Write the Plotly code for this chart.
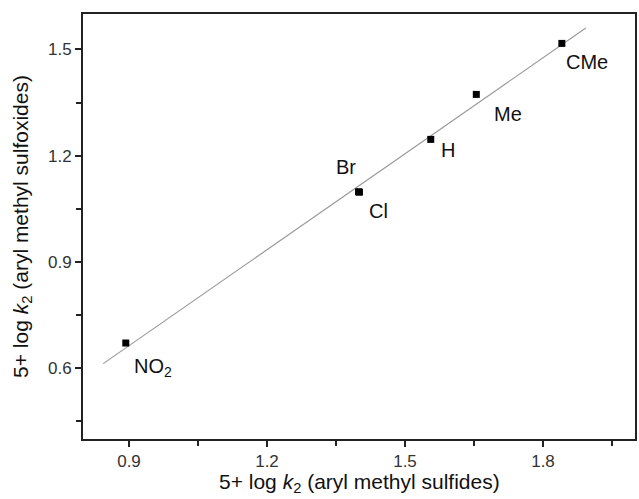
import numpy as np
import plotly.graph_objects as go

# Data
substituents = ["NO<sub>2</sub>", "Cl", "Br", "H", "Me", "CMe"]
log_k_sulfides = [0.893, 1.401, 1.399, 1.556, 1.655, 1.841]
log_k_sulfoxides = [0.671, 1.097, 1.098, 1.246, 1.373, 1.517]

x_ticks = [0.9, 1.2, 1.5, 1.8]
y_ticks = [0.6, 0.9, 1.2, 1.5]

x_title = "5+ log <i>k</i><sub>2</sub> (aryl methyl sulfides)"
y_title = "5+ log <i>k</i><sub>2</sub> (aryl methyl sulfoxides)"

# Linear fit
slope, intercept = np.polyfit(log_k_sulfides, log_k_sulfoxides, 1)
fit_x = np.array([0.844, 1.893])
fit_y = slope * fit_x + intercept

FONT = "Liberation Sans, Arial, sans-serif"

fig = go.Figure()
fig.add_trace(go.Scatter(x=fit_x, y=fit_y, mode="lines",
                         line=dict(color="#9a9a9a", width=1.2),
                         hoverinfo="skip", showlegend=False))
fig.add_trace(go.Scatter(x=log_k_sulfides, y=log_k_sulfoxides, mode="markers",
                         marker=dict(symbol="square", size=7, color="black"),
                         showlegend=False))

# label offsets (pixels) relative to each point
offsets = {
    "NO<sub>2</sub>": (27, -24),
    "Cl": (19, -19),
    "Br": (-13, 25),
    "H": (17, -11),
    "Me": (32, -20),
    "CMe": (25, -19),
}
for name, xv, yv in zip(substituents, log_k_sulfides, log_k_sulfoxides):
    dx, dy = offsets[name]
    fig.add_annotation(x=xv, y=yv, text=name, showarrow=False,
                       xshift=dx, yshift=dy,
                       font=dict(family=FONT, size=20, color="#111"))

# x-axis title as an annotation placed below the tick labels
fig.add_annotation(x=0.5, y=0, xref="paper", yref="paper", text=x_title,
                   showarrow=False, xanchor="center", yanchor="bottom",
                   yshift=-59, font=dict(family=FONT, size=21, color="#111"))

fig.update_xaxes(range=[0.8, 2.0], tickvals=x_ticks,
                 ticktext=[f"{v:.1f}" for v in x_ticks],
                 ticks="outside", ticklen=6, tickwidth=2, tickcolor="#222",
                 minor=dict(ticks="outside", ticklen=5, tickwidth=2, tickcolor="#222",
                            tickvals=[1.05, 1.35, 1.65, 1.95]),
                 showline=True, linecolor="#222", linewidth=2, mirror=True,
                 showgrid=False, zeroline=False,
                 tickfont=dict(family=FONT, size=17, color="#333"))
fig.update_yaxes(range=[0.4, 1.6], tickvals=y_ticks,
                 ticktext=[f"{v:.1f}" for v in y_ticks],
                 ticks="outside", ticklen=6, tickwidth=2, tickcolor="#222",
                 minor=dict(ticks="outside", ticklen=5, tickwidth=2, tickcolor="#222",
                            tickvals=[0.45, 0.75, 1.05, 1.35]),
                 showline=True, linecolor="#222", linewidth=2, mirror=True,
                 showgrid=False, zeroline=False,
                 tickfont=dict(family=FONT, size=17, color="#333"),
                 title=dict(text=y_title,
                            font=dict(family=FONT, size=21, color="#111"),
                            standoff=14))

fig.update_layout(width=639, height=499,
                  margin=dict(l=83, r=2, t=14, b=60),
                  plot_bgcolor="white", paper_bgcolor="white")

fig.write_html("out.html")
